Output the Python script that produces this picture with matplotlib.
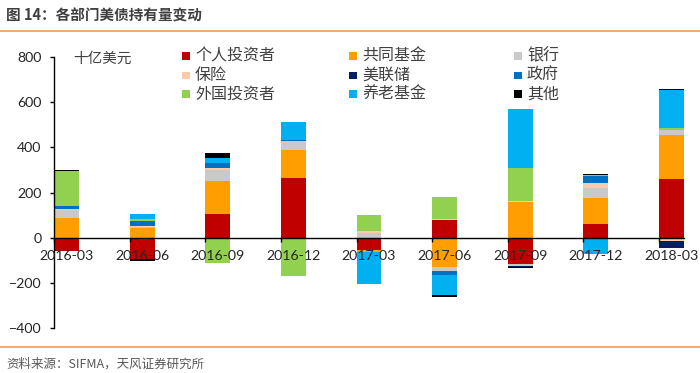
import matplotlib
matplotlib.use("Agg")
import matplotlib.pyplot as plt
from matplotlib.patches import Rectangle
from matplotlib.lines import Line2D
import numpy as np

plt.rcParams['font.family'] = ['Lato', 'Noto Sans CJK SC', 'DejaVu Sans']

categories = ['2016-03', '2016-06', '2016-09', '2016-12', '2017-03',
              '2017-06', '2017-09', '2017-12', '2018-03']

series_names = ['个人投资者', '共同基金', '银行', '保险', '美联储',
                '政府', '外国投资者', '养老基金', '其他']
series_colors = ['#C00000', '#FF9E00', '#C9C9C9', '#F8CBAD', '#002060',
                 '#0070C0', '#92D050', '#00B0F0', '#000000']

individual = [-60, -96, 103, 265, -54, 78, -118, 62, 258]
mutual_fund = [88, 44, 147, 122, -9, -128, 157, 115, 195]
banks = [33, 4, 50, 40, 19, -19, -5, 44, 25]
insurance = [7, 6, 10, 0, 10, 7, 7, 19, -14]
fed = [0, 0, 0, 0, 0, 0, -8, 0, -30]
government = [12, 21, 22, 7, 0, -17, 0, 35, 0]
foreign = [154, 8, -111, -168, 70, 95, 144, 3, 7]
pension = [0, 24, 22, 77, -143, -90, 261, -72, 166]
other = [7, -6, 19, 0, 3, -6, -2, 4, 7]

series_values = [individual, mutual_fund, banks, insurance, fed,
                 government, foreign, pension, other]

fig = plt.figure(figsize=(7.0, 3.73), dpi=100)
ax = fig.add_axes([54/700, 1-328.3/373, 630/700, (328.3-56.7)/373])

x = np.arange(len(categories))
bar_w = 0.33
pos_base = np.zeros(len(categories))
neg_base = np.zeros(len(categories))
for vals, col in zip(series_values, series_colors):
    v = np.array(vals, dtype=float)
    p = np.where(v > 0, v, 0)
    n = np.where(v < 0, v, 0)
    ax.bar(x, p, bar_w, bottom=pos_base, color=col, linewidth=0, zorder=1)
    ax.bar(x, n, bar_w, bottom=neg_base, color=col, linewidth=0, zorder=1)
    pos_base += p
    neg_base += n

ax.set_xlim(-bar_w/2, len(categories)-1+bar_w/2)
ax.set_ylim(-400, 800)
ax.set_yticks([-400, -200, 0, 200, 400, 600, 800])

for s in ['top', 'right']:
    ax.spines[s].set_visible(False)
ax.spines['bottom'].set_position(('data', 0))
ax.spines['bottom'].set_zorder(3)
for s in ['left', 'bottom']:
    ax.spines[s].set_linewidth(1.0)
    ax.spines[s].set_color('#000000')

ax.set_xticks(x - bar_w/2)
ax.set_xticklabels([])
ax.set_xticks(x, minor=True)
ax.set_xticklabels(categories, minor=True)
ax.tick_params(axis='x', which='major', direction='out', length=3, width=1)
ax.tick_params(axis='x', which='minor', length=0, pad=9, labelsize=10.2,
               labelcolor='#262626')
ax.tick_params(axis='y', direction='out', length=3, width=1, pad=6,
               labelsize=10.2, labelcolor='#262626')
ax.set_axisbelow(False)
ax.patch.set_alpha(0)

fig.text(73/700, 1-59/373, '十亿美元', fontsize=10.5, color='#404040',
         va='center', ha='left', family=['Noto Sans CJK SC'])

# legend (manual, row-wise like Excel)
col_x = [182, 349, 514]
row_y = [56, 75.3, 94]
for i, (name, col) in enumerate(zip(series_names, series_colors)):
    r, c = divmod(i, 3)
    mx = col_x[c]
    my = row_y[r]
    fig.add_artist(Rectangle((mx/700, 1-(my+3.8)/373), 7.5/700, 7.5/373,
                             transform=fig.transFigure, facecolor=col,
                             edgecolor='none'))
    fig.text((mx+13)/700, 1-my/373, name, fontsize=11.5, color='#404040',
             va='center', ha='left', family=['Noto Sans CJK SC'])

# title and footer
fig.text(6/700, 1-16/373, '图 14：各部门美债持有量变动', fontsize=10.5,
         fontweight='bold', color='#3F3F3F', va='center', ha='left',
         family=['Noto Sans CJK SC'])
fig.add_artist(Line2D([0, 1], [1-31/373, 1-31/373], transform=fig.transFigure,
                      color='#EFA468', linewidth=1.3))
fig.add_artist(Line2D([0, 1], [1-347.3/373, 1-347.3/373], transform=fig.transFigure,
                      color='#EFA468', linewidth=1.3))
fig.text(6/700, 1-364/373, '资料来源：SIFMA，天风证券研究所', fontsize=9,
         color='#595959', va='center', ha='left', family=['Noto Sans CJK SC'])

fig.savefig('out.png', dpi=100)
